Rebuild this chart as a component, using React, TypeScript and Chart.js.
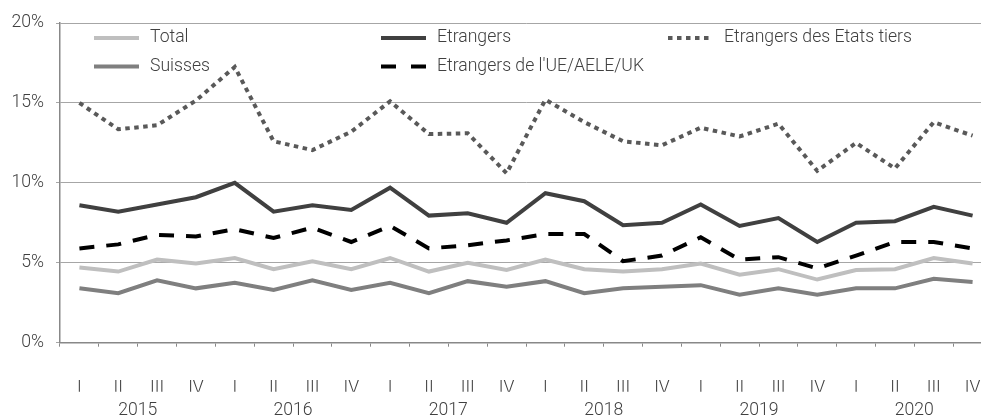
import React, { useEffect, useRef } from 'react';
import { Chart, registerables } from 'chart.js';

Chart.register(...registerables);

const quarters = [
  'I', 'II', 'III', 'IV', 'I', 'II', 'III', 'IV', 'I', 'II', 'III', 'IV',
  'I', 'II', 'III', 'IV', 'I', 'II', 'III', 'IV', 'I', 'II', 'III', 'IV',
];
const years = ['2015', '2016', '2017', '2018', '2019', '2020'];

const total = [4.7, 4.45, 5.2, 4.95, 5.3, 4.6, 5.1, 4.6, 5.3, 4.45, 5.0, 4.55, 5.2, 4.6, 4.45, 4.6, 4.95, 4.25, 4.6, 3.95, 4.55, 4.6, 5.3, 4.95];
const suisses = [3.4, 3.1, 3.9, 3.4, 3.75, 3.3, 3.9, 3.3, 3.75, 3.1, 3.85, 3.5, 3.85, 3.1, 3.4, 3.5, 3.6, 3.0, 3.4, 3.0, 3.4, 3.4, 4.0, 3.8];
const etrangers = [8.6, 8.2, 8.65, 9.1, 10.0, 8.2, 8.6, 8.3, 9.7, 7.95, 8.1, 7.5, 9.35, 8.85, 7.35, 7.5, 8.65, 7.3, 7.8, 6.3, 7.5, 7.6, 8.5, 7.95];
const etrangersUE = [5.9, 6.15, 6.75, 6.65, 7.1, 6.55, 7.2, 6.3, 7.3, 5.9, 6.1, 6.4, 6.8, 6.8, 5.1, 5.45, 6.6, 5.2, 5.35, 4.65, 5.45, 6.3, 6.3, 5.9];
const etrangersTiers = [15.0, 13.35, 13.6, 15.15, 17.25, 12.6, 12.05, 13.2, 15.1, 13.05, 13.1, 10.6, 15.2, 13.8, 12.6, 12.35, 13.45, 12.9, 13.7, 10.75, 12.5, 10.9, 13.8, 12.95];

const FONT = { family: 'Roboto', size: 17.6, weight: '300' as const };
const TEXT = '#404040';

export default function App() {
  const ref = useRef<HTMLCanvasElement>(null);

  useEffect(() => {
    if (!ref.current) return;

    const legendItems = [
      { label: 'Total', color: '#bfbfbf', dash: [] as number[], x: 94, y: 38 },
      { label: 'Etrangers', color: '#404040', dash: [] as number[], x: 381, y: 38 },
      { label: 'Etrangers des Etats tiers', color: '#595959', dash: [4.5, 4.5], x: 668, y: 38 },
      { label: 'Suisses', color: '#7f7f7f', dash: [] as number[], x: 94, y: 66.5 },
      { label: "Etrangers de l'UE/AELE/UK", color: '#000000', dash: [15, 15], x: 381, y: 66.5 },
    ];

    const legendPlugin = {
      id: 'customLegend',
      afterDraw(chart: any) {
        const ctx = chart.ctx as CanvasRenderingContext2D;
        ctx.save();
        legendItems.forEach((it) => {
          ctx.beginPath();
          ctx.setLineDash(it.dash);
          ctx.lineWidth = 4;
          ctx.lineCap = 'butt';
          ctx.strokeStyle = it.color;
          ctx.moveTo(it.x, it.y);
          ctx.lineTo(it.x + 45, it.y);
          ctx.stroke();
          ctx.setLineDash([]);
          ctx.fillStyle = TEXT;
          ctx.font = `${FONT.weight} ${FONT.size}px ${FONT.family}`;
          ctx.textBaseline = 'middle';
          ctx.textAlign = 'left';
          ctx.fillText(it.label, it.x + 56, it.y);
        });
        ctx.restore();
      },
    };

    const ds = (label: string, data: number[], color: string, dash: number[]) => ({
      label,
      data,
      borderColor: color,
      backgroundColor: color,
      borderWidth: 4,
      borderDash: dash,
      borderCapStyle: 'butt' as const,
      borderJoinStyle: 'miter' as const,
      pointRadius: 0,
      tension: 0,
      fill: false,
    });

    const noSidePad = (s: any) => {
      s.paddingLeft = 0;
      s.paddingRight = 0;
    };

    const chart = new Chart(ref.current, {
      type: 'line',
      data: {
        labels: quarters,
        datasets: [
          ds('Total', total, '#bfbfbf', []),
          ds('Suisses', suisses, '#7f7f7f', []),
          ds('Etrangers', etrangers, '#404040', []),
          ds("Etrangers de l'UE/AELE/UK", etrangersUE, '#000000', [15, 12]),
          ds('Etrangers des Etats tiers', etrangersTiers, '#595959', [4.5, 4.5]),
        ],
      },
      options: {
        responsive: false,
        animation: false,
        layout: { padding: { top: 23, right: 8, left: 0, bottom: 0 } },
        plugins: {
          legend: { display: false },
          tooltip: { enabled: false },
        },
        scales: {
          x: {
            type: 'category',
            offset: true,
            grid: {
              offset: true,
              drawOnChartArea: false,
              drawTicks: true,
              tickLength: 4,
              color: '#888888',
              lineWidth: 1,
            },
            border: { color: '#888888', width: 1.5 },
            ticks: {
              font: FONT,
              color: TEXT,
              padding: 31.5,
              maxRotation: 0,
              autoSkip: false,
            },
            afterFit: (s: any) => {
              s.height = 49;
              noSidePad(s);
            },
          },
          x2: {
            type: 'category',
            labels: years,
            position: 'bottom',
            offset: true,
            grid: { display: false },
            border: { display: false },
            ticks: {
              font: FONT,
              color: TEXT,
              padding: 0,
              maxRotation: 0,
              autoSkip: false,
            },
            afterFit: (s: any) => {
              s.height = 25.3;
              noSidePad(s);
            },
          },
          y: {
            min: 0,
            max: 20,
            ticks: {
              stepSize: 5,
              font: FONT,
              color: TEXT,
              padding: 12,
              callback: (v: any) => `${v}%`,
            },
            grid: { color: '#a6a6a6', lineWidth: 1, tickLength: 4 },
            border: { color: '#888888', width: 1.5 },
            afterFit: (s: any) => {
              s.width = 60;
            },
          },
        },
      },
      plugins: [legendPlugin],
    });

    return () => chart.destroy();
  }, []);

  return (
    <div
      style={{
        position: 'fixed',
        left: 0,
        top: 0,
        width: 981,
        height: 417,
        overflow: 'hidden',
        background: '#ffffff',
      }}
    >
      <canvas ref={ref} width={1000} height={417} style={{ display: 'block' }} />
    </div>
  );
}
